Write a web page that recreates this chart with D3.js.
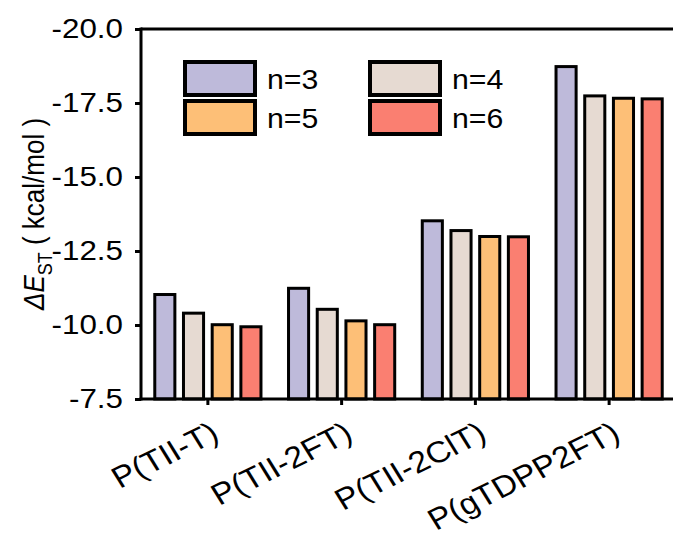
<!DOCTYPE html>
<html><head><meta charset="utf-8">
<script src="https://cdn.jsdelivr.net/npm/d3@7"></script>
<style>body{margin:0;background:#fff}svg{display:block}text{font-family:"Liberation Sans",Arial,sans-serif;fill:#000}</style>
</head><body><svg id="c" width="673" height="536"></svg>
<script>
const groups = ["P(TII-T)", "P(TII-2FT)", "P(TII-2ClT)", "P(gTDPP2FT)"];
const seriesNames = ["n=3", "n=4", "n=5", "n=6"];
const n3 = [-11.03, -11.24, -13.52, -18.73];
const n4 = [-10.40, -10.53, -13.19, -17.74];
const n5 = [-10.01, -10.14, -12.99, -17.66];
const n6 = [-9.94, -10.01, -12.98, -17.64];
const colors = ["#BEBADA", "#E6DAD2", "#FDBF77", "#FA7F71"];
const yTicks = [-20.0, -17.5, -15.0, -12.5, -10.0, -7.5];
const values = [n3, n4, n5, n6];

const SX = 1.12; // horizontal stretch of glyphs
const svg = d3.select("#c");
const L = 141, R = 676, T = 29, B = 399;
const y = d3.scaleLinear().domain([-7.5, -20]).range([B, T]);
const x0 = d3.scaleBand().domain(groups).range([L, R]).padding(0);
const inner = 114.8;
const x1 = d3.scaleBand().domain(seriesNames).range([0, inner]).paddingInner(0.3).paddingOuter(0.15);

// bars
const data = [];
groups.forEach((g, gi) => seriesNames.forEach((s, si) => data.push({g, s, si, v: values[si][gi]})));
svg.append("g").selectAll("rect").data(data).join("rect")
  .attr("x", d => x0(d.g) + (x0.bandwidth() - inner) / 2 + x1(d.s))
  .attr("width", x1.bandwidth())
  .attr("y", d => y(d.v))
  .attr("height", d => y(-7.5) - y(d.v))
  .attr("fill", d => colors[d.si])
  .attr("stroke", "#000").attr("stroke-width", 3);

// frame top
svg.append("line").attr("x1", L).attr("x2", 680).attr("y1", T).attr("y2", T)
  .attr("stroke", "#000").attr("stroke-width", 3);

// y axis
const ya = svg.append("g").attr("transform", `translate(${L},0)`)
  .call(d3.axisLeft(y).tickValues(yTicks).tickFormat(d => d.toFixed(1)).tickSizeOuter(0).tickSizeInner(6).tickPadding(12));
ya.select(".domain").attr("stroke-width", 3).attr("d", `M0,${T - 1.5}V${B + 1.5}`);
ya.selectAll(".tick line").attr("stroke-width", 3);
ya.selectAll(".tick text").attr("font-size", 28).attr("font-family", null)
  .attr("transform", function(){ const xx = +d3.select(this).attr("x"); return `translate(${xx},0) scale(${SX},1) translate(${-xx},0)`; });

// x axis
const xa = svg.append("g").attr("transform", `translate(0,${B})`)
  .call(d3.axisBottom(x0).tickSizeOuter(0).tickSizeInner(6));
xa.select(".domain").attr("stroke-width", 3).attr("d", `M${L - 1.5},0H680`);
xa.selectAll(".tick line").attr("stroke-width", 3);
xa.selectAll(".tick text").attr("font-size", 30).attr("font-family", null)
  .attr("text-anchor", "end").attr("x", 0).attr("y", 0).attr("dy", null)
  .attr("transform", `translate(13,40) scale(${SX},1) rotate(-29)`);

// y title
const t = svg.append("text").attr("font-size", 26).attr("text-anchor", "middle")
  .attr("fill", "#1a1a2a")
  .attr("transform", `translate(44,214) scale(${SX},1) rotate(-90)`);
t.append("tspan").attr("font-style", "italic").text("\u0394E");
t.append("tspan").attr("font-size", 18).attr("dy", 7).text("ST");
t.append("tspan").attr("dy", -7).text("\u00A0(\u00A0kcal/mol\u00A0)");

// legend
const legPos = [[185, 62], [370, 62], [185, 101], [370, 101]];
const leg = svg.append("g");
seriesNames.forEach((s, i) => {
  const [lx, ly] = legPos[i];
  leg.append("rect").attr("x", lx).attr("y", ly).attr("width", 70).attr("height", 33)
    .attr("fill", colors[i]).attr("stroke", "#000").attr("stroke-width", 4);
  const tx = lx + 82, ty = ly + 27;
  leg.append("text").attr("x", tx).attr("y", ty).attr("font-size", 27)
    .attr("transform", `translate(${tx},0) scale(${SX},1) translate(${-tx},0)`).text(s);
});
</script></body></html>
